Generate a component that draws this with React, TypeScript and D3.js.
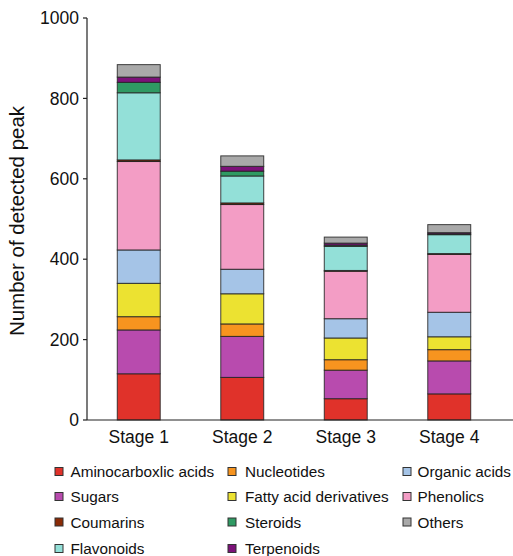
import * as d3 from "d3";

// categories & series
const stages = ["Stage 1", "Stage 2", "Stage 3", "Stage 4"];
const classes = [
  "Aminocarboxlic acids", "Sugars", "Nucleotides", "Fatty acid derivatives",
  "Organic acids", "Phenolics", "Coumarins", "Flavonoids", "Steroids",
  "Terpenoids", "Others",
];
const aminocarboxlic = [115, 106, 53, 65];
const sugars = [109, 102, 71, 82];
const nucleotides = [33, 31, 26, 28];
const fattyAcids = [83, 75, 54, 32];
const organicAcids = [83, 61, 48, 61];
const phenolics = [220, 161, 118, 144];
const coumarins = [4, 4, 2, 2];
const flavonoids = [167, 67, 60, 47];
const steroids = [26, 12, 3, 2];
const terpenoids = [13, 12, 5, 3];
const others = [31, 26, 15, 20];
const yTicks = [0, 200, 400, 600, 800, 1000];

const colors = [
  "#e0322a", "#b84bae", "#f7941f", "#ece231", "#a5c4e7", "#f39dc5",
  "#8a2b06", "#93e0d8", "#2f9a63", "#7c1279", "#a9a9a9",
];

// legend layout: column-major order as in the figure
const legendCols = [
  ["Aminocarboxlic acids", "Sugars", "Coumarins", "Flavonoids"],
  ["Nucleotides", "Fatty acid derivatives", "Steroids", "Terpenoids"],
  ["Organic acids", "Phenolics", "Others"],
];

const App = () => {
  const series = [aminocarboxlic, sugars, nucleotides, fattyAcids, organicAcids,
    phenolics, coumarins, flavonoids, steroids, terpenoids, others];
  const rows = stages.map((s, i) => {
    const r: any = { stage: s };
    classes.forEach((c, k) => { r[c] = series[k][i]; });
    return r;
  });
  const stacked = d3.stack().keys(classes)(rows);

  const x = d3.scaleBand().domain(stages).range([87, 501])
    .paddingInner(0.585).paddingOuter(0.2925);
  const y = d3.scaleLinear().domain([0, 1000]).range([420, 18]);
  const color = d3.scaleOrdinal<string>().domain(classes).range(colors);
  const font = "'Liberation Sans', Arial, sans-serif";

  return (
    <svg width={513} height={556} style={{ position: "absolute", left: 0, top: 0 }}
      fontFamily={font}>
      {stacked.map((layer) => (
        <g key={layer.key} fill={color(layer.key)}>
          {layer.map((d, i) => (
            <rect key={i} x={x(stages[i])} width={x.bandwidth()}
              y={y(d[1])} height={y(d[0]) - y(d[1])}
              stroke="#222" strokeWidth={1} strokeOpacity={0.85} />
          ))}
        </g>
      ))}
      {/* y axis */}
      <line x1={87} x2={87} y1={y(1000)} y2={y(0)} stroke="#222" strokeWidth={1.2} />
      {yTicks.map((t) => (
        <g key={t} transform={`translate(0,${y(t)})`}>
          <line x1={83} x2={87} stroke="#222" strokeWidth={1.2} />
          <text x={79} dy="0.35em" textAnchor="end" fontSize={17.5} fill="#111">{t}</text>
        </g>
      ))}
      <text transform={`translate(24,${(y(0) + y(1000)) / 2 + 2}) rotate(-90)`}
        textAnchor="middle" fontSize={20.5} fill="#111">Number of detected peak</text>
      {/* x axis */}
      <line x1={87} x2={513} y1={y(0)} y2={y(0)} stroke="#222" strokeWidth={1.2} />
      {stages.map((s) => (
        <text key={s} x={(x(s) as number) + x.bandwidth() / 2} y={443}
          textAnchor="middle" fontSize={17.5} fill="#111">{s}</text>
      ))}
      {/* legend */}
      {legendCols.map((col, ci) => (
        <g key={ci} transform={`translate(${[55, 228, 403][ci]},0)`}>
          {col.map((name, ri) => {
            const cy = [472, 497, 522.5, 549][ri];
            return (
              <g key={name}>
                <rect x={0} y={cy - 4.5} width={8} height={8} fill={color(name)}
                  stroke="#333" strokeWidth={1} />
                <text x={[15.5, 17, 14.5][ci]} y={cy} dy="0.35em" fontSize={15.3} fill="#111">{name}</text>
              </g>
            );
          })}
        </g>
      ))}
    </svg>
  );
};

export default App;
